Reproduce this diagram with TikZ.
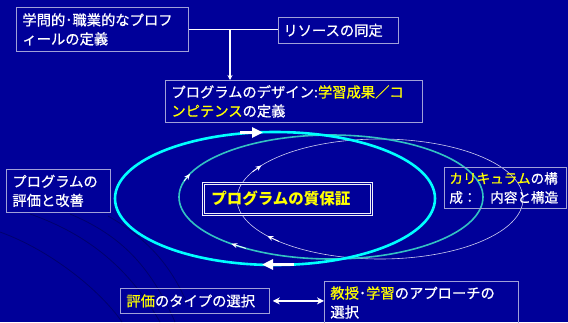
\documentclass[tikz,border=0pt]{standalone}
\usepackage{fontspec}
\setmainfont{Noto Sans CJK JP}[UprightFeatures={FakeBold=0.7}]
\usetikzlibrary{arrows.meta}
\definecolor{bg}{HTML}{000099}
\definecolor{bord}{HTML}{A0A0D8}
\definecolor{yel}{HTML}{FFFF00}
\definecolor{cyn}{HTML}{00FFFF}
\definecolor{tea}{HTML}{33C2C2}
\definecolor{wel}{HTML}{D0D0F0}
\definecolor{darc}{HTML}{00006E}
\begin{document}
\begin{tikzpicture}[x=1pt,y=-1pt,
  box/.style={draw=bord, line width=0.8pt, text=white, align=left,
    inner xsep=6pt, inner ysep=0pt, anchor=north west,
    font=\fontsize{14.3}{19}\selectfont},
  qbox/.style={draw=white!85!bord, line width=0.7pt, double=bg, double distance=1.6pt,
    align=left, inner xsep=8pt, inner ysep=0pt, anchor=north west,
    font=\bfseries\fontsize{15.5}{18}\selectfont, text=yel},
  link/.style={draw=white, line width=1.4pt},
  bigarr/.style={draw=white, line width=3pt, -{Triangle[length=11pt,width=10pt]}},
  smallarr/.style={draw=white, line width=0.8pt, -{Stealth[length=6pt,width=5pt]}},
  bgarc/.style={draw=darc, line width=0.8pt}
]
\useasboundingbox (0,0) rectangle (568,322);
\fill[bg] (0,0) rectangle (568,322);
% background arcs
\draw[bgarc] (30,214) .. controls (90,235) and (130,270) .. (160,322);
\draw[bgarc] (70,214) .. controls (120,235) and (150,265) .. (175,322);
\draw[bgarc] (108,216) .. controls (150,240) and (172,268) .. (188,305);
\draw[bgarc] (0,232) .. controls (50,250) and (100,290) .. (122,322);

% ellipses
\draw[wel, line width=0.6pt] (380,199) ellipse [x radius=143pt, y radius=60pt];
\draw[tea, line width=1.6pt] (331,197) ellipse [x radius=152pt, y radius=62pt];
\draw[cyn, line width=2.6pt] (275,198.5) ellipse [x radius=160pt, y radius=66.5pt];

% arrows on the ellipses
\draw[bigarr] (240,132.5) -- (263,132.5);
\draw[bigarr] (294,264.5) -- (262,264.5);
\draw[smallarr] ({331+152*cos(195)},{197+62*sin(195)}) -- ({331+152*cos(202)},{197+62*sin(202)});
\draw[smallarr] ({331+152*cos(124)},{197+62*sin(124)}) -- ({331+152*cos(131)},{197+62*sin(131)});
\draw[smallarr] ({380+143*cos(207)},{199+60*sin(207)}) -- ({380+143*cos(214)},{199+60*sin(214)});
\draw[smallarr] ({380+143*cos(135)},{199+60*sin(135)}) -- ({380+143*cos(142)},{199+60*sin(142)});

% boxes
\node[box, text width=160pt, minimum height=44pt] (b1) at (16,7)
  {学問的･職業的なプロフ\\ィールの定義};
\node[box, text width=110pt, inner xsep=5pt, minimum height=26pt] (b2) at (278,17)
  {リソースの同定};
\node[box, text width=245pt, minimum height=42pt] (b3) at (165,80)
  {プログラムのデザイン:\textcolor{yel}{学習成果／コ}\\\textcolor{yel}{ンピテンス}の定義};
\node[box, text width=92pt, minimum height=43pt] (bl) at (6,169)
  {プログラムの\\評価と改善};
\node[qbox, text width=152pt, minimum height=31pt] (q) at (203,183)
  {プログラムの質保証};
\node[box, text width=112pt, inner xsep=5pt, minimum height=41pt, font=\fontsize{13.6}{19}\selectfont] (br) at (444,167)
  {\textcolor{yel}{カリキュラム}の構\\成：　内容と構造};
\node[box, text width=137pt, minimum height=25pt] (ev) at (120,288)
  {\textcolor{yel}{評価}のタイプの選択};
\node[box, text width=182pt, inner ysep=5pt] (ap) at (324,281)
  {\textcolor{yel}{教授}･\textcolor{yel}{学習}のアプローチの\\選択};

% connectors
\coordinate (j) at (230,29);
\draw[link] (b1.east) -- (b2.west |- b1.east);
\draw[link, -{Stealth[length=5pt,width=5pt]}] (j) -- (j |- b3.north);
\draw[link, line width=1.8pt, {Stealth[length=7pt,width=7pt]}-{Stealth[length=7pt,width=7pt]}, shorten <=3pt]
  (ev.east) -- (ev.east -| ap.west);
\end{tikzpicture}
\end{document}
